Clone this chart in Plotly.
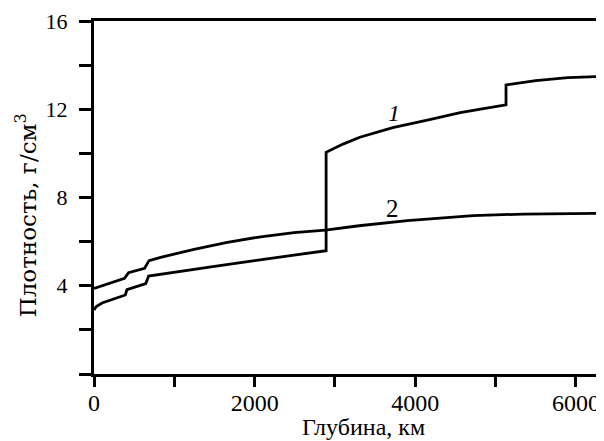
import plotly.graph_objects as go

# curve 1 - real density (PREM-like), curve 2 - the other model
depth1 = [0, 25, 100, 250, 390, 410, 645, 680, 1000, 1500, 2000, 2500, 2890,
          2890, 3100, 3310, 3720, 4150, 4560, 4850, 5130,
          5130, 5500, 5900, 6371]
dens1 = [2.90, 3.05, 3.22, 3.42, 3.58, 3.82, 4.10, 4.44, 4.62, 4.88, 5.14, 5.39, 5.59,
         10.05, 10.42, 10.73, 11.17, 11.51, 11.85, 12.03, 12.20,
         13.10, 13.30, 13.43, 13.50]

depth2 = [0, 200, 380, 430, 630, 685, 830, 1245, 1660, 2075, 2490, 2880,
          3300, 3900, 4400, 4720, 5350, 6371]
dens2 = [3.88, 4.12, 4.34, 4.59, 4.79, 5.14, 5.29, 5.65, 5.97, 6.22, 6.41, 6.52,
         6.72, 6.95, 7.10, 7.18, 7.25, 7.28]

x_ticks = [0, 1000, 2000, 3000, 4000, 5000, 6000]
x_label_vals = [0, 2000, 4000, 6000]
y_label_vals = [4, 8, 12, 16]

serif = "Liberation Serif"
x_range = [0, 6350]

fig = go.Figure()
fig.add_trace(go.Scatter(x=depth1, y=dens1, mode="lines",
                         line=dict(color="black", width=2.8)))
fig.add_trace(go.Scatter(x=depth2, y=dens2, mode="lines",
                         line=dict(color="black", width=2.8)))
# empty trace so the tick-only axis gets drawn
fig.add_trace(go.Scatter(x=[], y=[], xaxis="x2", hoverinfo="skip"))

# labels on the main axis, tick marks on an overlaid one (keeps labels close to the line)
fig.update_layout(xaxis=dict(range=x_range, tickmode="array", tickvals=x_label_vals,
                             ticks="", ticklabelstandoff=5,
                             showline=True, linewidth=3, linecolor="black", mirror=True,
                             showgrid=False, zeroline=False,
                             tickfont=dict(family=serif, size=24, color="black")),
                  xaxis2=dict(range=x_range, overlaying="x", anchor="y", side="bottom",
                              tickmode="array", tickvals=x_ticks, showticklabels=False,
                              ticks="outside", ticklen=12, tickwidth=2.5, tickcolor="black",
                              showline=False, showgrid=False, zeroline=False))
fig.update_yaxes(range=[0, 16], tickmode="array", tickvals=y_label_vals,
                 ticks="outside", ticklen=12, tickwidth=2.5, tickcolor="black",
                 minor=dict(tick0=0, dtick=2, ticks="outside", ticklen=12,
                            tickwidth=2.5, tickcolor="black", showgrid=False),
                 showline=True, linewidth=3, linecolor="black",
                 showgrid=False, zeroline=False, ticklabelstandoff=7,
                 tickfont=dict(family=serif, size=22, color="black"))

fig.add_annotation(x=3736, y=11.81, text="<i>1</i>", showarrow=False,
                   font=dict(family=serif, size=24, color="black"))
fig.add_annotation(x=3717, y=7.48, text="2", showarrow=False,
                   font=dict(family=serif, size=25, color="black"))

# axis titles placed by hand
fig.add_annotation(xref="paper", yref="paper", x=0.528, y=-0.15,
                   text="Глубина, км", showarrow=False,
                   xanchor="center", yanchor="middle",
                   font=dict(family=serif, size=24, color="black"))
fig.add_annotation(xref="paper", yref="paper", x=-0.133, y=0.45,
                   text="Плотность, г/см<sup>3</sup>", showarrow=False, textangle=-90,
                   xanchor="center", yanchor="middle",
                   font=dict(family="DejaVu Serif", size=23, color="black"))

# page body adds 8px offset, so the figure is 8px smaller
fig.update_layout(width=596, height=433, showlegend=False,
                  margin=dict(l=86, r=0, t=13, b=67),
                  paper_bgcolor="white", plot_bgcolor="white")

fig.write_html("out.html")
